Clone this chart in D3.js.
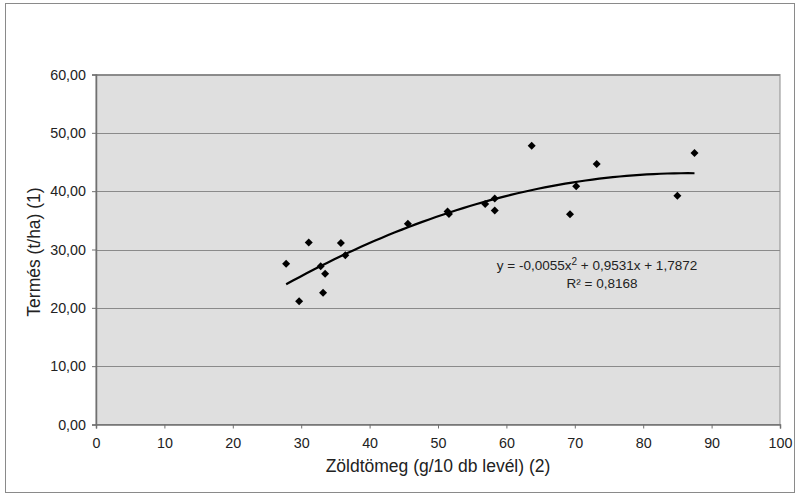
<!DOCTYPE html>
<html><head><meta charset="utf-8">
<script src="https://cdn.jsdelivr.net/npm/d3@7/dist/d3.min.js"></script>
<style>body{margin:0;background:#fff}svg text{font-family:"Liberation Sans",Arial,sans-serif;fill:#222}</style>
</head><body><svg id="c" width="796" height="495"></svg>
<script>
const xValues = [27.8, 31.1, 35.8, 36.45, 32.85, 33.5, 33.2, 29.7, 45.6, 51.4, 51.6, 56.9, 58.3, 58.3, 63.7, 70.2, 69.3, 73.2, 87.5, 85.0];
const yValues = [27.55, 31.2, 31.1, 29.0, 27.15, 25.85, 22.6, 21.15, 34.4, 36.5, 36.1, 37.8, 38.75, 36.7, 47.8, 40.85, 36.05, 44.65, 46.55, 39.2];
const xTicks = [0,10,20,30,40,50,60,70,80,90,100];
const yTicks = [0,10,20,30,40,50,60];
const yTickLabels = ["0,00","10,00","20,00","30,00","40,00","50,00","60,00"];
const trendCoef = [-0.0055, 0.9531, 1.7872];
const equationText = ["y = -0,0055x", "2", " + 0,9531x + 1,7872"];
const r2Text = "R² = 0,8168";
const xTitle = "Zöldtömeg (g/10 db levél) (2)";
const yTitle = "Termés (t/ha) (1)";

const svg = d3.select("#c");
const L=96, R=780, T=74.5, B=424.5;
const x = d3.scaleLinear().domain([0,100]).range([L,R]);
const y = d3.scaleLinear().domain([0,60]).range([B,T]);

svg.append("rect").attr("x",5.5).attr("y",3.5).attr("width",789).attr("height",489)
  .attr("fill","#fff").attr("stroke","#8a8a8a").attr("stroke-width",1);
svg.append("rect").attr("x",L).attr("y",T).attr("width",R-L).attr("height",B-T)
  .attr("fill","#dfdfdf").attr("stroke","#8c8c8c").attr("stroke-width",1);

svg.append("g").selectAll("line").data(yTicks.slice(1)).join("line")
  .attr("x1",L).attr("x2",R).attr("y1",d=>Math.round(y(d))+0.5).attr("y2",d=>Math.round(y(d))+0.5)
  .attr("stroke","#8a8a8a").attr("stroke-width",1);

const fmt = d => yTickLabels[yTicks.indexOf(d)];
const ya = svg.append("g").attr("transform",`translate(${L},0)`)
  .call(d3.axisLeft(y).tickValues(yTicks).tickFormat(fmt).tickSize(4).tickPadding(6));
const xa = svg.append("g").attr("transform",`translate(0,${B})`)
  .call(d3.axisBottom(x).tickValues(xTicks).tickFormat(d=>d).tickSize(4).tickPadding(9));
[ya,xa].forEach(g=>{
  g.select(".domain").attr("stroke","#707070").attr("stroke-width",1.5);
  g.selectAll(".tick line").attr("stroke","#707070");
  g.selectAll("text").attr("font-size",14.3).attr("fill","#222").attr("font-family","Liberation Sans, Arial, sans-serif");
});

// trend line
const xmin = d3.min(xValues), xmax = d3.max(xValues);
const tr = d3.range(0,61).map(i=>{const xv = xmin+(xmax-xmin)*i/60; return [xv, trendCoef[0]*xv*xv+trendCoef[1]*xv+trendCoef[2]];});
svg.append("path").datum(tr).attr("fill","none").attr("stroke","#000").attr("stroke-width",2.2)
  .attr("d",d3.line().x(d=>x(d[0])).y(d=>y(d[1])));

// markers
const diamond = {draw(ctx,size){const r=Math.sqrt(size)/2; ctx.moveTo(0,-r); ctx.lineTo(r,0); ctx.lineTo(0,r); ctx.lineTo(-r,0); ctx.closePath();}};
svg.append("g").selectAll("path").data(xValues.map((v,i)=>[v,yValues[i]])).join("path")
  .attr("transform",d=>`translate(${x(d[0])},${y(d[1])})`)
  .attr("d",d3.symbol().type(diamond).size(64)).attr("fill","#000");

// equation
const eq = svg.append("text").attr("x",597).attr("y",270).attr("text-anchor","middle").attr("font-size",13.5);
eq.append("tspan").text(equationText[0]);
eq.append("tspan").attr("dy",-5).attr("font-size",10).text(equationText[1]);
eq.append("tspan").attr("dy",5).text(equationText[2]);
svg.append("text").attr("x",602).attr("y",288).attr("text-anchor","middle").attr("font-size",13.5).text(r2Text);

svg.append("text").attr("x",438).attr("y",472).attr("text-anchor","middle").attr("font-size",17.5).text(xTitle);
svg.append("text").attr("transform","translate(40,252) rotate(-90)").attr("text-anchor","middle").attr("font-size",17.5).text(yTitle);
</script></body></html>
